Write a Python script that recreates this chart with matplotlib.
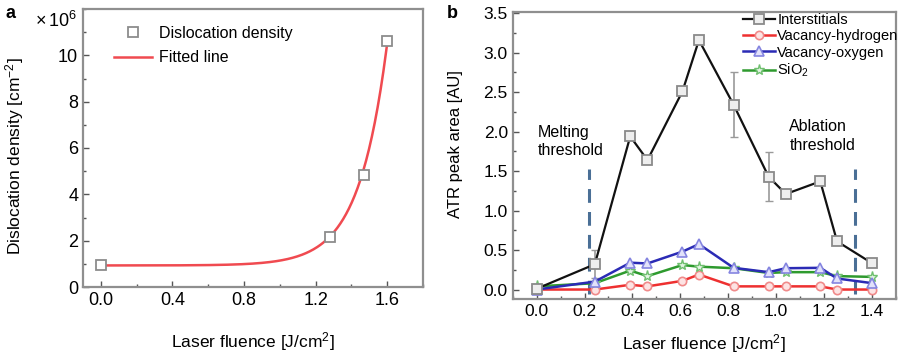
"""Two-panel figure: dislocation density fit (a) and ATR peak areas (b)."""
import numpy as np
import matplotlib
matplotlib.use("Agg")
import matplotlib.pyplot as plt
from matplotlib.ticker import MultipleLocator

plt.rcParams["font.family"] = ["Liberation Sans", "DejaVu Sans"]
plt.rcParams["mathtext.fontset"] = "custom"
plt.rcParams["mathtext.rm"] = "Liberation Sans"
plt.rcParams["mathtext.it"] = "Liberation Sans"

# --- panel a data (x1e6 cm^-2)
fluence_a = [0.0, 1.28, 1.47, 1.60]
disloc = [0.97, 2.15, 4.85, 10.6]
# exponential growth fit y = y0 + A*exp(x/t)
FIT_Y0, FIT_A, FIT_T = 0.93, 3.6e-4, 0.157

# --- panel b data
fluence_b = [0.0, 0.243, 0.391, 0.463, 0.609, 0.678, 0.823, 0.969, 1.041, 1.185, 1.255, 1.403]
interstitials = [0.01, 0.32, 1.94, 1.64, 2.51, 3.16, 2.34, 1.43, 1.21, 1.37, 0.61, 0.33]
inter_err = [0, 0.18, 0, 0, 0, 0, 0.41, 0.31, 0, 0, 0, 0]
vac_hydrogen = [0.0, 0.0, 0.06, 0.04, 0.11, 0.19, 0.04, 0.04, 0.04, 0.04, 0.0, 0.0]
vac_oxygen = [0.0, 0.10, 0.34, 0.33, 0.48, 0.575, 0.275, 0.22, 0.27, 0.275, 0.14, 0.08]
sio2 = [0.04, 0.08, 0.24, 0.17, 0.31, 0.29, 0.27, 0.21, 0.22, 0.22, 0.17, 0.16]
melt_x, ablation_x = 0.217, 1.33

FRAME = "#8f8f8f"

fig = plt.figure(figsize=(9.01, 3.53), dpi=100)


def style_axes(ax, fs):
    for sp in ax.spines.values():
        sp.set_color(FRAME)
        sp.set_linewidth(1.6)
    ax.tick_params(which="both", direction="in", color="#555555", labelsize=fs,
                   top=False, right=False)
    ax.tick_params(which="major", length=4, width=1)
    ax.tick_params(which="minor", length=2.5, width=1)


# ---------------- panel a
ax1 = fig.add_axes([83 / 901, 66 / 353, 340 / 901, 278 / 353])
xf = np.linspace(0, 1.6, 300)
ax1.plot(fluence_a, disloc, ls="none", marker="s", ms=7, mfc="white",
         mec="#8c8c8c", mew=1.3, label="Dislocation density", zorder=3)
ax1.plot(xf, FIT_Y0 + FIT_A * np.exp(xf / FIT_T), color="#f04a50", lw=1.8,
         label="Fitted line", zorder=2)
ax1.set_xlim(-0.1, 1.8)
ax1.set_ylim(0, 12)
ax1.set_xticks([0.0, 0.4, 0.8, 1.2, 1.6])
ax1.set_xticklabels(["0.0", "0.4", "0.8", "1.2", "1.6"])
ax1.set_yticks([0, 2, 4, 6, 8, 10])
ax1.xaxis.set_minor_locator(MultipleLocator(0.2))
ax1.yaxis.set_minor_locator(MultipleLocator(1))
style_axes(ax1, 13)
ax1.set_xlabel("Laser fluence [J/cm$^2$]", fontsize=12.5)
ax1.xaxis.set_label_coords(0.5, -0.155)
ax1.xaxis.label.set_va("top")
ax1.set_ylabel("Dislocation density [cm$^{-2}$]", fontsize=12.5)
ax1.yaxis.set_label_coords(-0.168, 0.47)
ax1.legend(loc="upper left", bbox_to_anchor=(0.091, 0.94), frameon=False,
           fontsize=11.5, handlelength=2.4, handletextpad=0.4, labelspacing=0.6,
           borderpad=0, borderaxespad=0, numpoints=1)
fig.text(35 / 901, 1 - 21 / 353, r"$\times\,10^6$", fontsize=13, va="center")
fig.text(5 / 901, 1 - 13 / 353, "a", fontsize=13, weight="bold", va="center")

# ---------------- panel b
ax2 = fig.add_axes([512.7 / 901, 54 / 353, 383 / 901, 287.3 / 353])
ax2.errorbar(fluence_b, interstitials, yerr=inter_err, fmt="none",
             ecolor="#9a9a9a", elinewidth=1.2, capsize=3, zorder=2)
ax2.plot(fluence_b, vac_hydrogen, color="#ee3030", lw=1.8, marker="o", ms=6,
         mfc="#fde3e3", mec="#f08a8a", mew=1.2, label="Vacancy-hydrogen", zorder=3)
ax2.plot(fluence_b, sio2, color="#2e9a2e", lw=1.8, marker="*", ms=8,
         mfc="#e4f4e4", mec="#70c070", mew=1.0, label="SiO$_2$", zorder=3)
ax2.plot(fluence_b, vac_oxygen, color="#2b2bb5", lw=1.8, marker="^", ms=7,
         mfc="#e2e2fa", mec="#8585e0", mew=1.2, label="Vacancy-oxygen", zorder=3)
ax2.plot(fluence_b, interstitials, color="#111111", lw=1.6, marker="s", ms=6.5,
         mfc="#eeeeee", mec="#8a8a8a", mew=1.3, label="Interstitials", zorder=4)
for xv in (melt_x, ablation_x):
    ax2.plot([xv, xv], [-0.06, 1.53], color="#4a6f96", lw=2.2,
             dashes=(4.5, 3), zorder=1)
ax2.text(0.005, 2.09, "Melting\nthreshold", fontsize=11.5, va="top", ha="left",
         linespacing=1.3)
ax2.text(1.056, 2.16, "Ablation\nthreshold", fontsize=11.5, va="top", ha="left",
         linespacing=1.3)
ax2.set_xlim(-0.1, 1.5)
ax2.set_ylim(-0.12, 3.52)
ax2.set_xticks(np.arange(0, 1.41, 0.2))
ax2.set_xticklabels(["0.0", "0.2", "0.4", "0.6", "0.8", "1.0", "1.2", "1.4"])
ax2.set_yticks(np.arange(0, 3.51, 0.5))
ax2.set_yticklabels(["0.0", "0.5", "1.0", "1.5", "2.0", "2.5", "3.0", "3.5"])
ax2.xaxis.set_minor_locator(MultipleLocator(0.1))
ax2.yaxis.set_minor_locator(MultipleLocator(0.25))
style_axes(ax2, 12.5)
ax2.set_xlabel("Laser fluence [J/cm$^2$]", fontsize=12.5)
ax2.xaxis.set_label_coords(0.5, -0.114)
ax2.xaxis.label.set_va("top")
ax2.set_ylabel("ATR peak area [AU]", fontsize=12)
ax2.yaxis.set_label_coords(-0.13, 0.54)
h, l = ax2.get_legend_handles_labels()
order = [3, 0, 2, 1]
ax2.legend([h[i] for i in order], [l[i] for i in order], loc="upper left",
           bbox_to_anchor=(0.601, 0.995), frameon=False, fontsize=10.5,
           handlelength=2.2, handletextpad=0.15, labelspacing=0.15,
           borderpad=0, borderaxespad=0, numpoints=1)
fig.text(447 / 901, 1 - 13 / 353, "b", fontsize=13, weight="bold", va="center")

fig.savefig("out.png", dpi=100)
